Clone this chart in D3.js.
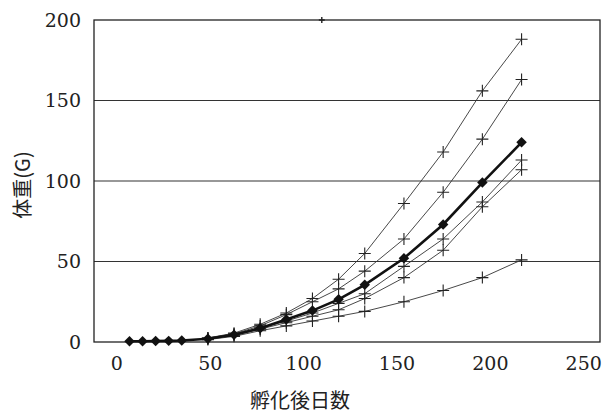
<!DOCTYPE html>
<html>
<head>
<meta charset="utf-8">
<script src="https://cdn.jsdelivr.net/npm/d3@7"></script>
<style>
  body { margin: 0; background: #fff; }
  svg .tick text { font-family: "DejaVu Serif", serif !important; }
</style>
</head>
<body>
<svg id="chart" width="605" height="414"></svg>
<script>
// data
const xTicks = [0, 50, 100, 150, 200, 250];
const yTicks = [0, 50, 100, 150, 200];
const gridValues = [50, 100, 150];

// thick line with diamonds (mean)
const meanDays = [7, 14, 21, 28, 35, 49, 63, 77, 91, 105, 119, 133, 154, 175, 196, 217];
const meanWeight = [0.5, 0.5, 0.6, 0.7, 0.9, 2, 4.5, 8.5, 14, 19.5, 26.5, 35.5, 52, 73, 99, 124];

// thin lines with "+" markers (individual groups)
const thinDays = [49, 63, 77, 91, 105, 119, 133, 154, 175, 196, 217];
const groupA = [2.5, 5.5, 11, 18, 27, 39, 55, 86, 118, 156, 188];
const groupB = [2.5, 5, 10, 17, 25, 33, 44, 64, 93, 126, 163];
const groupC = [2, 4.5, 8.5, 13, 18, 24, 30, 47, 64, 87, 113];
const groupD = [2, 4, 8, 12, 16, 20, 27, 40, 57, 84, 107];
const groupE = [1.5, 3.5, 7, 10, 13, 16, 19, 25, 32, 40, 51];

// stray off-scale marker sitting on the top border
const strayDay = [110];
const strayWeight = [200];

const cjk = '"Noto Sans CJK JP", "Noto Sans CJK SC", sans-serif';

const svg = d3.select("#chart");
const plot = { left: 94, right: 600, top: 20, bottom: 342 };

const xScale = d3.scaleLinear().domain([-12, 259]).range([plot.left, plot.right]);
const yScale = d3.scaleLinear().domain([0, 200]).range([plot.bottom, plot.top]);

// horizontal gridlines
svg.append("g")
    .selectAll("line")
    .data(gridValues)
    .join("line")
    .attr("x1", plot.left)
    .attr("x2", plot.right)
    .attr("y1", d => yScale(d))
    .attr("y2", d => yScale(d))
    .attr("stroke", "#333")
    .attr("stroke-width", 1.1);

// frame
svg.append("rect")
    .attr("x", plot.left)
    .attr("y", plot.top)
    .attr("width", plot.right - plot.left)
    .attr("height", plot.bottom - plot.top)
    .attr("fill", "none")
    .attr("stroke", "#222")
    .attr("stroke-width", 1.3);

// axes
let xAxis = g => g
    .attr("transform", `translate(0,${plot.bottom})`)
    .call(d3.axisBottom(xScale).tickValues(xTicks).tickSize(0).tickPadding(15))
    .attr("font-size", 19)
    .attr("font-family", null)
    .call(g => g.select(".domain").remove())
    .call(g => g.selectAll("text").attr("fill", "#222"));
svg.append("g").call(xAxis);

let yAxis = g => g
    .attr("transform", `translate(${plot.left},0)`)
    .call(d3.axisLeft(yScale).tickValues(yTicks).tickSize(0).tickPadding(13))
    .attr("font-size", 19)
    .attr("font-family", null)
    .call(g => g.select(".domain").remove())
    .call(g => g.selectAll("text").attr("fill", "#222"));
svg.append("g").call(yAxis);

// axis titles
svg.append("text")
    .attr("x", 300)
    .attr("y", 408)
    .attr("text-anchor", "middle")
    .attr("font-family", cjk)
    .attr("font-size", 20)
    .attr("fill", "#222")
    .text("孵化後日数");

svg.append("text")
    .attr("transform", "translate(30,185) rotate(-90)")
    .attr("text-anchor", "middle")
    .attr("font-family", cjk)
    .attr("font-size", 20)
    .attr("fill", "#222")
    .text("体重(G)");

// thin series
const line = d3.line().x(d => xScale(d[0])).y(d => yScale(d[1]));
const groups = [groupA, groupB, groupC, groupD, groupE];

groups.forEach(vals => {
    const pts = thinDays.map((d, i) => [d, vals[i]]);
    svg.append("path")
        .datum(pts)
        .attr("d", line)
        .attr("fill", "none")
        .attr("stroke", "#333")
        .attr("stroke-width", 0.9);
    svg.append("g")
        .selectAll("path")
        .data(pts)
        .join("path")
        .attr("d", d => `M${xScale(d[0]) - 6},${yScale(d[1])}h12M${xScale(d[0])},${yScale(d[1]) - 6}v12`)
        .attr("stroke", "#222")
        .attr("stroke-width", 1.1)
        .attr("fill", "none");
});

// stray marker
svg.append("g")
    .selectAll("path")
    .data(strayDay.map((d, i) => [d, strayWeight[i]]))
    .join("path")
    .attr("d", d => `M${xScale(d[0]) - 3},${yScale(d[1])}h6M${xScale(d[0])},${yScale(d[1]) - 3}v6`)
    .attr("stroke", "#222")
    .attr("stroke-width", 1.4);

// mean series, thick with diamonds
const meanPts = meanDays.map((d, i) => [d, meanWeight[i]]);
svg.append("path")
    .datum(meanPts)
    .attr("d", line)
    .attr("fill", "none")
    .attr("stroke", "#111")
    .attr("stroke-width", 2.6);

svg.append("g")
    .selectAll("path")
    .data(meanPts)
    .join("path")
    .attr("transform", d => `translate(${xScale(d[0])},${yScale(d[1])}) rotate(45)`)
    .attr("d", d3.symbol().type(d3.symbolSquare).size(55))
    .attr("fill", "#111");
</script>
</body>
</html>
